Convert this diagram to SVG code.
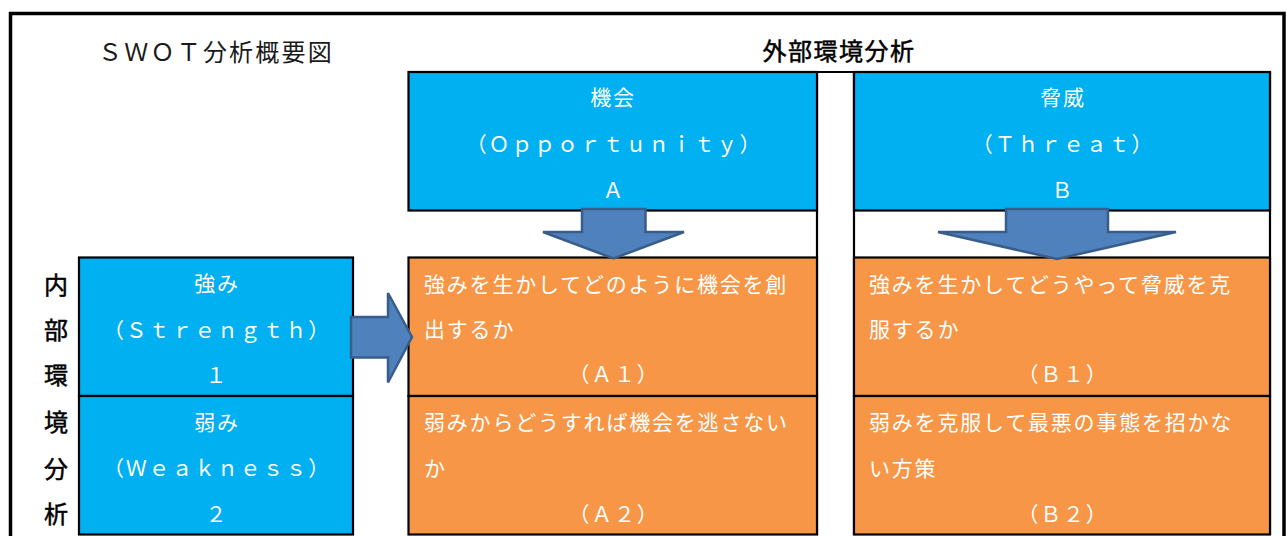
<svg xmlns="http://www.w3.org/2000/svg" width="1287" height="536" viewBox="0 0 1287 536">
<defs>
<style>
.bx{stroke:#000;stroke-width:2.2}
.blue{fill:#00B0F0}
.orange{fill:#F79646}
.wt{fill:#fff;font-family:"Noto Sans CJK JP","Noto Sans",sans-serif;font-size:21px;letter-spacing:1.8px;dominant-baseline:central}
.c{text-anchor:middle}
.blk{fill:#000;font-family:"Noto Sans CJK JP","Noto Sans",sans-serif;font-size:24px;dominant-baseline:central}
.med{stroke:#000;stroke-width:0.5}
.arr{fill:#4F81BD;stroke:#385D8A;stroke-width:2.5;stroke-linejoin:miter}
.ln{stroke:#000;stroke-width:2.2;fill:none}
</style>
</defs>
<rect x="0" y="0" width="1287" height="536" fill="#fff"/>
<!-- outer frame -->
<path d="M10.5,560 V13.5 H1284 V560" fill="none" stroke="#000" stroke-width="3.5"/>

<text id="title" x="216" y="50" class="blk" text-anchor="middle" style="letter-spacing:2.2px;fill:#1a1a1a">ＳＷＯＴ分析概要図</text>
<text id="external-label" x="839" y="49" class="blk med" text-anchor="middle" style="letter-spacing:1.5px">外部環境分析</text>

<g id="internal-label">
<text x="56" y="283" class="blk c med">内</text>
<text x="56" y="328" class="blk c med">部</text>
<text x="56" y="373" class="blk c med">環</text>
<text x="56" y="420" class="blk c med">境</text>
<text x="56" y="467" class="blk c med">分</text>
<text x="56" y="512" class="blk c med">析</text>
</g>

<!-- middle separator column and gap borders -->
<g id="grid-lines">
<path class="ln" d="M817,72 H854"/>
<path class="ln" d="M817,72 V535"/>
<path class="ln" d="M854,72 V535"/>
<path class="ln" d="M1270,72 V535"/>
</g>

<g id="opportunity">
<rect class="bx blue" x="408.5" y="72" width="408.5" height="138.5"/>
<text class="wt c" x="613" y="96">機会</text>
<text class="wt c" x="614" y="143">（Ｏｐｐｏｒｔｕｎｉｔｙ）</text>
<text class="wt c" x="614" y="189">Ａ</text>
</g>

<g id="threat">
<rect class="bx blue" x="854" y="72" width="416" height="138.5"/>
<text class="wt c" x="1063" y="96">脅威</text>
<text class="wt c" x="1063" y="143">（Ｔｈｒｅａｔ）</text>
<text class="wt c" x="1063" y="189">Ｂ</text>
</g>

<g id="strength">
<rect class="bx blue" x="79" y="257.5" width="274" height="138.5"/>
<text class="wt c" x="217" y="282">強み</text>
<text class="wt c" x="217" y="329">（Ｓｔｒｅｎｇｔｈ）</text>
<text class="wt c" x="217" y="374">１</text>
</g>

<g id="weakness">
<rect class="bx blue" x="79" y="396" width="274" height="138.5"/>
<text class="wt c" x="217" y="421">弱み</text>
<text class="wt c" x="217" y="467">（Ｗｅａｋｎｅｓｓ）</text>
<text class="wt c" x="217" y="513">２</text>
</g>

<g id="a1">
<rect class="bx orange" x="408.5" y="257.5" width="408.5" height="138.5"/>
<text class="wt" x="424" y="282.5">強みを生かしてどのように機会を創</text>
<text class="wt" x="424" y="327.5">出するか</text>
<text class="wt c" x="614" y="373">（Ａ１）</text>
</g>

<g id="a2">
<rect class="bx orange" x="408.5" y="396" width="408.5" height="138.5"/>
<text class="wt" x="424" y="421">弱みからどうすれば機会を逃さない</text>
<text class="wt" x="424" y="467">か</text>
<text class="wt c" x="614" y="512.5">（Ａ２）</text>
</g>

<g id="b1">
<rect class="bx orange" x="854" y="257.5" width="416" height="138.5"/>
<text class="wt" x="869" y="282.5">強みを生かしてどうやって脅威を克</text>
<text class="wt" x="869" y="327.5">服するか</text>
<text class="wt c" x="1063" y="373">（Ｂ１）</text>
</g>

<g id="b2">
<rect class="bx orange" x="854" y="396" width="416" height="138.5"/>
<text class="wt" x="869" y="421">弱みを克服して最悪の事態を招かな</text>
<text class="wt" x="869" y="467">い方策</text>
<text class="wt c" x="1063" y="512.5">（Ｂ２）</text>
</g>

<g id="connectors">
<path class="arr" d="M582,209 H645.5 V232 H684 L613.5,258.5 L543,232 H582 Z"/>
<path class="arr" d="M1006,209 H1108 V232 H1176 L1057,259 L938,232 H1006 Z"/>
<path class="arr" d="M351,317 H388 V293 L412,337 L388,382.5 V357.5 H351 Z"/>
</g>
</svg>
